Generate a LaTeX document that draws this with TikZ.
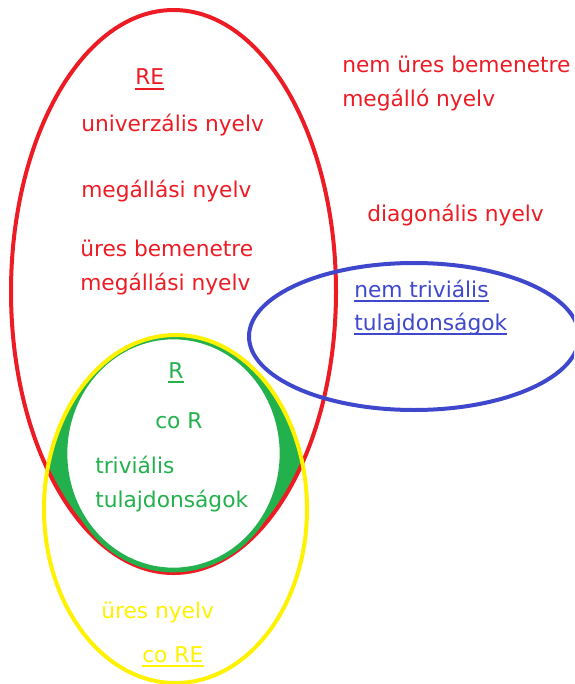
\documentclass[tikz,border=0pt]{standalone}
\usepackage{fontspec}
\setmainfont{DejaVu Sans}
\definecolor{pred}{HTML}{ED1C24}
\definecolor{pgreen}{HTML}{22B14C}
\definecolor{pyellow}{HTML}{FFF200}
\definecolor{pblue}{HTML}{3F48CC}
\begin{document}
\begin{tikzpicture}[x=0.75pt,y=-0.75pt,
  lbl/.style={inner sep=0pt, anchor=base west, text=#1,
    font=\fontsize{16.3pt}{19pt}\selectfont},
  ring/.style={draw=#1, line width=3pt},
  uline/.style={draw=#1, line width=1.4pt}]
\useasboundingbox (0,0) rectangle (574,684);
\clip (0,0) rectangle (574,684);

% RE and co-RE overlap, filled green
\begin{scope}
  \clip (173.5,291.5) ellipse [x radius=162.5, y radius=281.5];
  \fill[pgreen] (175.5,509) ellipse [x radius=131.5, y radius=174];
\end{scope}

% RE
\draw[ring=pred] (173.5,291.5) ellipse [x radius=162.5, y radius=281.5];
% R
\draw[draw=pgreen, line width=3.5pt, fill=white] (173.5,453.5) ellipse [x radius=108.5, y radius=116.5];
% co RE
\draw[ring=pyellow] (175.5,509) ellipse [x radius=131.5, y radius=174];
% non-trivial properties
\draw[ring=pblue] (414,336.5) ellipse [x radius=165, y radius=73.5];

% labels inside RE
\node[lbl=pred] (re) at (135,85) {RE};
\draw[uline=pred] ([yshift=-3pt]re.base west) -- ([yshift=-3pt]re.base east);
\node[lbl=pred] (univ) at (81,132) {univerzális nyelv};
\node[lbl=pred] (halt) at (81,198) {megállási nyelv};
\node[lbl=pred] (empty1) at (80,256) {üres bemenetre};
\node[lbl=pred] (empty2) at (80,290) {megállási nyelv};

% labels outside RE
\node[lbl=pred] (ne1) at (342,73) {nem üres bemenetre};
\node[lbl=pred] (ne2) at (342,107) {megálló nyelv};
\node[lbl=pred] (diag) at (367,221) {diagonális nyelv};

% non-trivial properties
\node[lbl=pblue] (nt1) at (354,297) {nem triviális};
\draw[uline=pblue] ([yshift=-3pt]nt1.base west) -- ([yshift=-3pt]nt1.base east);
\node[lbl=pblue] (nt2) at (354,330) {tulajdonságok};
\draw[uline=pblue] ([yshift=-3pt]nt2.base west) -- ([yshift=-3pt]nt2.base east);

% R
\node[lbl=pgreen] (r) at (168,378) {R};
\draw[uline=pgreen] ([yshift=-3pt]r.base west) -- ([yshift=-3pt]r.base east);
\node[lbl=pgreen] (cor) at (155,428) {co R};
\node[lbl=pgreen] (tr1) at (95,473) {triviális};
\node[lbl=pgreen] (tr2) at (95,507) {tulajdonságok};

% co RE
\node[lbl=pyellow] (emptylang) at (101,618) {üres nyelv};
\node[lbl=pyellow] (core) at (142,662) {co RE};
\draw[uline=pyellow] ([yshift=-3pt]core.base west) -- ([yshift=-3pt]core.base east);
\end{tikzpicture}
\end{document}
